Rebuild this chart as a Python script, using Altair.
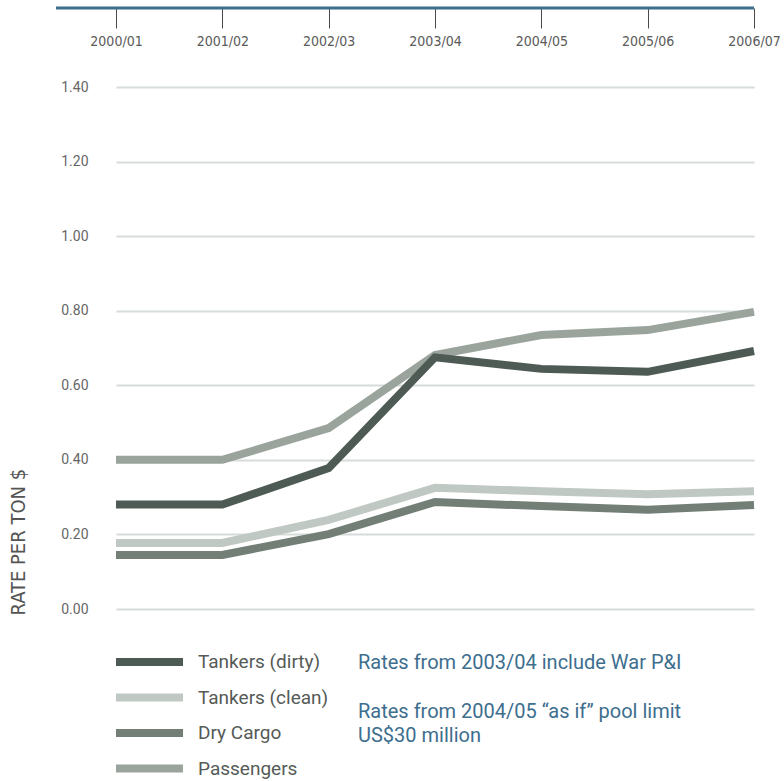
import altair as alt
import pandas as pd

# Years (financial years) along the top axis
years = ["2000/01", "2001/02", "2002/03", "2003/04", "2004/05", "2005/06", "2006/07"]

# Rate per ton in US$ for each class of vessel
tankers_dirty = [0.28, 0.28, 0.378, 0.675, 0.644, 0.636, 0.692]
tankers_clean = [0.177, 0.177, 0.239, 0.325, 0.316, 0.308, 0.316]
dry_cargo = [0.145, 0.145, 0.201, 0.287, 0.276, 0.266, 0.279]
passengers = [0.40, 0.40, 0.485, 0.681, 0.735, 0.748, 0.797]

series_names = ["Tankers (dirty)", "Tankers (clean)", "Dry Cargo", "Passengers"]
series_colors = ["#4e5b54", "#c0c8c3", "#727e76", "#9aa49d"]
y_ticks = [0.0, 0.2, 0.4, 0.6, 0.8, 1.0, 1.2, 1.4]

notes = [
    "Rates from 2003/04 include War P&I",
    "Rates from 2004/05 \u201cas if\u201d pool limit",
    "US$30 million",
]

W, H = 638, 522
TEXT_FONT = "Roboto"
NARROW_FONT = "Liberation Sans Narrow, DejaVu Sans Condensed, Roboto Condensed, sans-serif"

rows = []
for name, vals in zip(series_names, [tankers_dirty, tankers_clean, dry_cargo, passengers]):
    for yr, v in zip(years, vals):
        rows.append({"year": yr, "rate": v, "series": name})
df = pd.DataFrame(rows)

x_enc = alt.X(
    "year:O",
    sort=years,
    scale=alt.Scale(type="point", padding=0, domain=years),
    axis=alt.Axis(
        orient="bottom",
        offset=-(H + 79),
        domain=False,
        ticks=True,
        tickSize=20,
        tickColor="#4a4a4a",
        tickWidth=1,
        labelAngle=0,
        labelPadding=6,
        labelFontSize=14,
        labelColor="#5a5a5a",
        labelFont=NARROW_FONT,
        grid=False,
        title=None,
    ),
)

y_enc = alt.Y(
    "rate:Q",
    scale=alt.Scale(domain=[0, 1.4], nice=False, zero=True),
    axis=alt.Axis(
        values=y_ticks,
        format=".2f",
        domain=False,
        ticks=False,
        labelPadding=28,
        labelFontSize=14,
        labelColor="#666666",
        labelFont=TEXT_FONT,
        grid=True,
        gridColor="#d6dcd9",
        gridWidth=2,
        title="RATE PER TON $",
        titleFont=NARROW_FONT,
        titleFontSize=20,
        titleFontWeight="normal",
        titleColor="#555555",
        titleAngle=270,
        titleAlign="left",
        titleBaseline="middle",
        titleX=-98,
        titleY=H + 6,
    ),
)

layers = []

# Top axis line, running a little further left than the plot
layers.append(
    alt.Chart(pd.DataFrame({"k": [0]})).mark_rule(stroke="#3d6e8e", strokeWidth=3).encode(
        x=alt.value(-60), x2=alt.value(W), y=alt.value(-79)
    )
)

draw_order = ["Tankers (clean)", "Dry Cargo", "Passengers", "Tankers (dirty)"]
color_of = dict(zip(series_names, series_colors))
for name in draw_order:
    layers.append(
        alt.Chart(df[df.series == name])
        .mark_line(strokeWidth=8, color=color_of[name], strokeCap="butt", strokeJoin="miter")
        .encode(x=x_enc, y=y_enc, order=alt.Order("year:O"))
    )

# Legend: swatch and label for each series
legend_df = pd.DataFrame({"series": series_names})
for i, name in enumerate(series_names):
    ypos = H + 53 + i * 35.5
    one = legend_df[legend_df.series == name]
    layers.append(
        alt.Chart(one).mark_rule(strokeWidth=8, color=color_of[name]).encode(
            x=alt.value(0), x2=alt.value(67), y=alt.value(ypos)
        )
    )
    layers.append(
        alt.Chart(one).mark_text(
            align="left", baseline="middle", font=TEXT_FONT, fontSize=19, color="#555b57"
        ).encode(x=alt.value(82), y=alt.value(ypos), text="series:N")
    )

# Notes beside the legend
notes_df = pd.DataFrame({"note": notes})
note_y = [H + 54, H + 103, H + 127]
for note, ny in zip(notes, note_y):
    layers.append(
        alt.Chart(notes_df[notes_df.note == note]).mark_text(
            align="left", baseline="middle", font=TEXT_FONT, fontSize=20, color="#3d6e8e"
        ).encode(x=alt.value(242), y=alt.value(ny), text="note:N")
    )

chart = (
    alt.layer(*layers)
    .properties(
        width=W,
        height=H,
        autosize=alt.AutoSizeParams(type="none"),
        padding={"left": 116, "top": 87, "right": 30, "bottom": 172},
        background="white",
    )
    .configure_view(stroke=None)
)

chart.save("out.html", embed_options={"renderer": "svg", "actions": False})
